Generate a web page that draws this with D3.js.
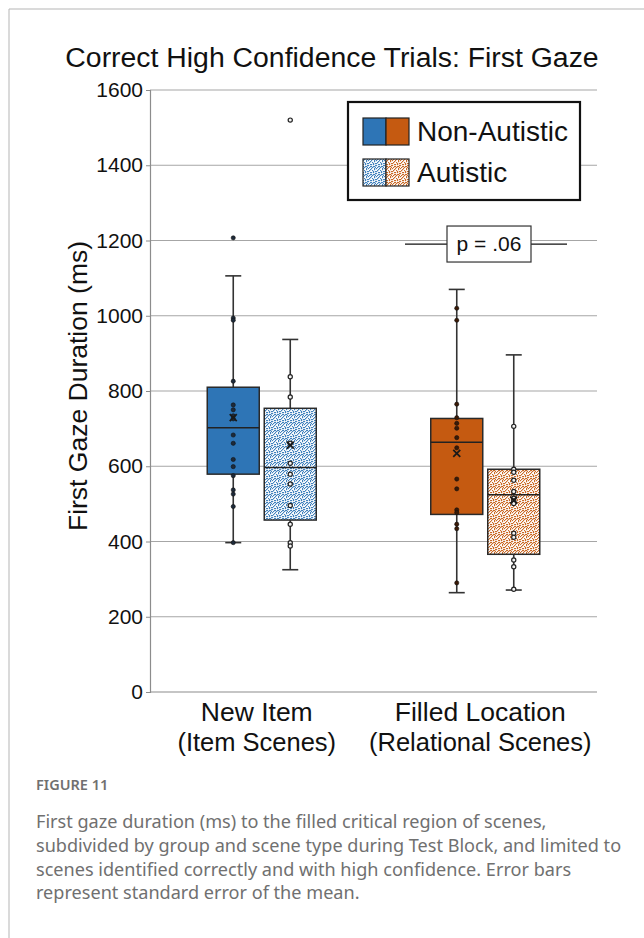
<!DOCTYPE html>
<html>
<head>
<meta charset="utf-8">
<script src="https://cdn.jsdelivr.net/npm/d3@7"></script>
<style>
  html, body { margin: 0; padding: 0; background: #fff; }
  svg { display: block; }
</style>
</head>
<body>
<svg id="chart" width="644" height="938"></svg>
<script>
// ---------------- DATA ----------------
const categories = ["New Item", "Filled Location"];
const categorySubLabels = ["(Item Scenes)", "(Relational Scenes)"];
const groups = ["Non-Autistic", "Autistic"];
const yTicks = [0, 200, 400, 600, 800, 1000, 1200, 1400, 1600];

// [whisker low, Q1, median, Q3, whisker high] per category
const nonAutisticBox = [[397, 579, 702, 810, 1106], [264, 472, 664, 727, 1070]];
const autisticBox = [[325, 457, 597, 754, 937], [271, 366, 524, 592, 896]];
const nonAutisticMean = [729, 634];
const autisticMean = [656, 510];

const nonAutisticPointsNew = [1207, 994, 988, 826, 763, 750, 734, 726, 683, 661, 618, 599, 575, 537, 526, 493, 397];
const autisticPointsNew = [1520, 838, 784, 661, 608, 579, 553, 496, 446, 397, 388];
const nonAutisticPointsFilled = [1020, 988, 765, 729, 714, 701, 676, 649, 566, 540, 484, 477, 446, 434, 290];
const autisticPointsFilled = [706, 592, 584, 563, 533, 515, 508, 501, 422, 411, 351, 333, 273];

const pValueText = "p = .06";
const pValueLevel = 1180;

// ---------------- SETUP ----------------
const svg = d3.select("#chart");
const plot = { left: 150, right: 597, top: 90, bottom: 692 };
const FONT = "Liberation Sans, Arial, sans-serif";

const y = d3.scaleLinear().domain([0, 1600]).range([plot.bottom, plot.top]);
const x = d3.scaleBand().domain(categories).range([plot.left, plot.right]).padding(0);
const xi = d3.scaleBand().domain(groups).range([-57, 57]).padding(0);
const boxW = 52;

const colors = ["#2E75B6", "#C55A11"];
const pointFill = ["#1d2a3a", "#3b1a06"];

// frame
svg.append("line").attr("x1", 9).attr("x2", 644).attr("y1", 9).attr("y2", 9).attr("stroke", "#b5b5b5").attr("stroke-width", 1);
svg.append("line").attr("x1", 9).attr("x2", 9).attr("y1", 9).attr("y2", 938).attr("stroke", "#b5b5b5").attr("stroke-width", 1);

// patterns
const defs = svg.append("defs");
const speckle = [[0,0],[3,0],[6,1],[1,2],[4,2],[7,3],[2,4],[5,4],[0,5],[3,6],[6,6],[1,7],[4,7],[7,5],[2,1],[5,3],[0,3],[6,0],[3,4],[7,7],[2,6],[5,6]];
["blue", "orange"].forEach((nm, i) => {
  const p = defs.append("pattern").attr("id", "speck-" + nm).attr("patternUnits", "userSpaceOnUse")
    .attr("width", 8).attr("height", 8);
  p.append("rect").attr("width", 8).attr("height", 8).attr("fill", "#ffffff");
  speckle.forEach(([a, b]) => {
    p.append("rect").attr("x", a).attr("y", b).attr("width", 1.2).attr("height", 1.2)
      .attr("fill", colors[i]).attr("opacity", 0.9);
  });
});

// gridlines
svg.append("g").selectAll("line").data(yTicks.filter(d => d > 0)).join("line")
  .attr("x1", plot.left).attr("x2", plot.right)
  .attr("y1", d => y(d)).attr("y2", d => y(d))
  .attr("stroke", "#a6a6a6").attr("stroke-width", 1.2);

// y axis
const yAxis = svg.append("g").attr("transform", `translate(${plot.left},0)`)
  .call(d3.axisLeft(y).tickValues(yTicks).tickSize(4).tickPadding(3).tickFormat(d3.format("d")));
yAxis.select(".domain").attr("stroke", "#8c8c8c").attr("stroke-width", 1.2);
yAxis.selectAll(".tick line").attr("stroke", "#8c8c8c");
yAxis.selectAll("text").attr("font-family", FONT).attr("font-size", 21).attr("fill", "#111");

// x axis line
svg.append("line").attr("x1", plot.left).attr("x2", plot.right).attr("y1", y(0)).attr("y2", y(0))
  .attr("stroke", "#8c8c8c").attr("stroke-width", 1.2);

// x labels
categories.forEach((c, i) => {
  const cx = x(c) + x.bandwidth() / 2 - 5;
  svg.append("text").attr("x", cx).attr("y", 721).attr("text-anchor", "middle")
    .attr("font-family", FONT).attr("font-size", 26.5).attr("fill", "#111").text(c);
  svg.append("text").attr("x", cx).attr("y", 751).attr("text-anchor", "middle")
    .attr("font-family", FONT).attr("font-size", 25.5).attr("fill", "#111").text(categorySubLabels[i]);
});

// title
svg.append("text").attr("x", 332).attr("y", 67).attr("text-anchor", "middle")
  .attr("font-family", FONT).attr("font-size", 28.4).attr("fill", "#111")
  .text("Correct High Confidence Trials: First Gaze");

// y label
svg.append("text").attr("transform", `translate(87,386) rotate(-90)`)
  .attr("text-anchor", "middle")
  .attr("font-family", FONT).attr("font-size", 26.5).attr("fill", "#111")
  .text("First Gaze Duration (ms)");

// boxes
const series = [
  { group: "Non-Autistic", box: nonAutisticBox, mean: nonAutisticMean, pts: [nonAutisticPointsNew, nonAutisticPointsFilled], hollow: false },
  { group: "Autistic", box: autisticBox, mean: autisticMean, pts: [autisticPointsNew, autisticPointsFilled], hollow: true }
];

series.forEach(s => {
  categories.forEach((c, ci) => {
    const cx = x(c) + x.bandwidth() / 2 + xi(s.group) + xi.bandwidth() / 2;
    const [lo, q1, med, q3, hi] = s.box[ci];
    const g = svg.append("g");
    const fill = s.hollow ? (ci === 0 ? "url(#speck-blue)" : "url(#speck-orange)") : colors[ci];
    g.append("line").attr("x1", cx).attr("x2", cx).attr("y1", y(hi)).attr("y2", y(q3)).attr("stroke", "#333").attr("stroke-width", 1.6);
    g.append("line").attr("x1", cx).attr("x2", cx).attr("y1", y(q1)).attr("y2", y(lo)).attr("stroke", "#333").attr("stroke-width", 1.6);
    g.append("line").attr("x1", cx - 8).attr("x2", cx + 8).attr("y1", y(hi)).attr("y2", y(hi)).attr("stroke", "#333").attr("stroke-width", 1.6);
    g.append("line").attr("x1", cx - 8).attr("x2", cx + 8).attr("y1", y(lo)).attr("y2", y(lo)).attr("stroke", "#333").attr("stroke-width", 1.6);
    g.append("rect").attr("x", cx - boxW / 2).attr("y", y(q3)).attr("width", boxW).attr("height", y(q1) - y(q3))
      .attr("fill", fill).attr("stroke", "#2a2a2a").attr("stroke-width", 1.5);
    g.append("line").attr("x1", cx - boxW / 2).attr("x2", cx + boxW / 2).attr("y1", y(med)).attr("y2", y(med))
      .attr("stroke", "#222").attr("stroke-width", 1.5);
    g.selectAll("circle").data(s.pts[ci]).join("circle")
      .attr("cx", cx).attr("cy", d => y(d)).attr("r", 2.1)
      .attr("fill", s.hollow ? "#f4f4f4" : pointFill[ci])
      .attr("stroke", s.hollow ? "#222" : "#111").attr("stroke-width", s.hollow ? 1.2 : 0.6);
    const my = y(s.mean[ci]);
    g.append("path").attr("d", `M${cx - 3.5},${my - 3.5}L${cx + 3.5},${my + 3.5}M${cx - 3.5},${my + 3.5}L${cx + 3.5},${my - 3.5}`)
      .attr("stroke", "#1a1a1a").attr("stroke-width", 1.8);
  });
});

// p-value bracket
const pY = y(pValueLevel) - 4;
svg.append("line").attr("x1", 405).attr("x2", 567).attr("y1", pY).attr("y2", pY).attr("stroke", "#111").attr("stroke-width", 1.3);
svg.append("rect").attr("x", 447).attr("y", pY - 18).attr("width", 84).attr("height", 36)
  .attr("fill", "#fff").attr("stroke", "#333").attr("stroke-width", 1.2);
svg.append("text").attr("x", 489).attr("y", pY + 7).attr("text-anchor", "middle")
  .attr("font-family", FONT).attr("font-size", 21).attr("fill", "#111").text(pValueText);

// legend
const lg = svg.append("g");
lg.append("rect").attr("x", 348).attr("y", 102).attr("width", 232).attr("height", 98)
  .attr("fill", "#fff").attr("stroke", "#111").attr("stroke-width", 2.2);
groups.forEach((gname, i) => {
  const ly = 118 + i * 41;
  ["blue", "orange"].forEach((nm, j) => {
    const f = gname === "Non-Autistic" ? colors[j] : `url(#speck-${nm})`;
    lg.append("rect").attr("x", 363 + j * 23).attr("y", ly).attr("width", 23).attr("height", 27)
      .attr("fill", f).attr("stroke", "#222").attr("stroke-width", 1.2);
  });
  lg.append("text").attr("x", 417).attr("y", ly + 23)
    .attr("font-family", FONT).attr("font-size", 28).attr("fill", "#111").text(gname);
});

// caption
const cap = svg.append("g").attr("font-family", "'Noto Sans', 'Open Sans', sans-serif").attr("fill", "#707070");
cap.append("text").attr("x", 36).attr("y", 790).attr("font-size", 14.5).attr("font-weight", 600).text("FIGURE 11");
["First gaze duration (ms) to the filled critical region of scenes,",
 "subdivided by group and scene type during Test Block, and limited to",
 "scenes identified correctly and with high confidence. Error bars",
 "represent standard error of the mean."].forEach((t, i) => {
  cap.append("text").attr("x", 36).attr("y", 828 + i * 23.8).attr("font-size", 18.1).attr("font-weight", 400).text(t);
});
</script>
</body>
</html>
